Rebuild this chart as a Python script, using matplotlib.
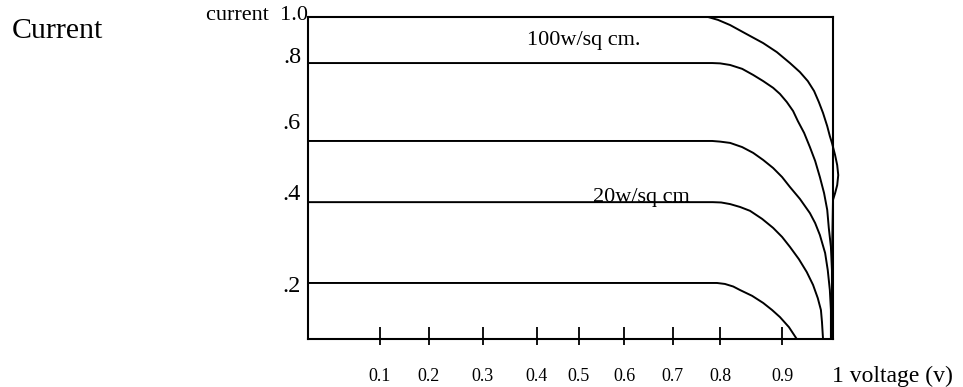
import matplotlib
matplotlib.use("Agg")
import matplotlib.pyplot as plt
import matplotlib.transforms as mtransforms

plt.rcParams['font.family'] = ['Liberation Serif', 'DejaVu Serif']

# ---- data (normalised axis units) ----
xtick_pos = [0.137, 0.230, 0.333, 0.436, 0.516, 0.602, 0.695, 0.785, 0.903]
xtick_labels = ['0.1', '0.2', '0.3', '0.4', '0.5', '0.6', '0.7', '0.8', '0.9']

levels = [0.174, 0.425, 0.615, 0.857, 1.0]
level_labels = ['.2', '.4', '.6', '.8', 'current  1.0']

c1_x = [0.0, 0.762, 0.781, 0.804, 0.832, 0.867, 0.893, 0.918, 0.937, 0.952, 0.964, 0.973,
        0.981, 0.989, 0.994, 0.998, 1.004, 1.008, 1.010, 1.008, 1.004, 1.000, 0.998, 0.998]
c1_y = [1.0, 1.0, 0.991, 0.975, 0.950, 0.919, 0.891, 0.857, 0.829, 0.801, 0.770, 0.736,
        0.702, 0.661, 0.630, 0.609, 0.571, 0.540, 0.509, 0.478, 0.453, 0.432, 0.245, 0.0]

c2_x = [0.0, 0.770, 0.785, 0.804, 0.827, 0.848, 0.867, 0.886, 0.899, 0.912, 0.924, 0.933,
        0.945, 0.956, 0.966, 0.975, 0.983, 0.989, 0.992, 0.996, 0.998, 0.998, 0.998]
c2_y = [0.857, 0.857, 0.856, 0.851, 0.839, 0.820, 0.801, 0.780, 0.761, 0.736, 0.708, 0.677,
        0.640, 0.596, 0.553, 0.503, 0.453, 0.401, 0.345, 0.286, 0.214, 0.121, 0.0]

c3_x = [0.0, 0.770, 0.785, 0.804, 0.827, 0.848, 0.867, 0.886, 0.903, 0.918, 0.937,
        0.956, 0.966, 0.975, 0.985, 0.990, 0.994, 0.996, 0.996]
c3_y = [0.615, 0.615, 0.613, 0.609, 0.596, 0.578, 0.556, 0.531, 0.503, 0.472, 0.435,
        0.391, 0.360, 0.323, 0.267, 0.214, 0.152, 0.090, 0.0]

c4_x = [0.0, 0.771, 0.787, 0.804, 0.823, 0.842, 0.865, 0.886, 0.903, 0.918, 0.935,
        0.950, 0.962, 0.971, 0.977, 0.979, 0.981]
c4_y = [0.425, 0.425, 0.424, 0.419, 0.410, 0.398, 0.373, 0.345, 0.317, 0.286, 0.248,
        0.208, 0.168, 0.127, 0.090, 0.053, 0.0]

c5_x = [0.0, 0.779, 0.794, 0.810, 0.823, 0.846, 0.867, 0.884, 0.899, 0.916, 0.931]
c5_y = [0.174, 0.174, 0.171, 0.163, 0.152, 0.134, 0.112, 0.090, 0.068, 0.037, 0.0]

curves = [(c1_x, c1_y), (c2_x, c2_y), (c3_x, c3_y), (c4_x, c4_y), (c5_x, c5_y)]

# ---- figure ----
W, H = 963, 387
fig = plt.figure(figsize=(W / 100, H / 100), dpi=100)
ax = fig.add_axes([308 / W, (H - 339) / H, (833 - 308) / W, (339 - 17) / H])
ax.set_xlim(0, 1)
ax.set_ylim(0, 1)

for xs, ys in curves:
    ax.plot(xs, ys, color='black', lw=1.4, clip_on=False,
            solid_capstyle='butt', solid_joinstyle='round')

for s in ax.spines.values():
    s.set_linewidth(1.5)
    s.set_color('black')

ax.xaxis.remove_overlapping_locs = False
ax.set_xticks(xtick_pos)
ax.set_xticklabels(xtick_labels, fontsize=13)
ax.set_xticks(xtick_pos, minor=True)
ax.tick_params(axis='x', which='major', direction='in', length=9, width=1.3, pad=21)
ax.tick_params(axis='x', which='minor', direction='out', length=4, width=1.3)
ax.set_yticks([])

# y level labels
offsets = [-9, 2, 12, 0, -3]
trans = mtransforms.blended_transform_factory(ax.transAxes, ax.transData)
for lev, lab, off in zip(levels, level_labels, offsets):
    fs = 16 if lab.startswith('current') else 17.5
    dx = 0 if lab.startswith('current') else -7
    ax.annotate(lab, xy=(0, lev), xycoords=trans, xytext=(dx, off),
                textcoords='offset pixels', ha='right', va='baseline', fontsize=fs)

ax.text(0.417, 0.913, '100w/sq cm.', fontsize=16, ha='left', va='baseline')
ax.text(0.543, 0.425, '20w/sq cm', fontsize=16, ha='left', va='baseline')
ax.text(0.998, -0.134, '1 voltage (v)', fontsize=17, ha='left', va='baseline', clip_on=False)

fig.text(12 / W, 1 - 38 / H, 'Current', fontsize=21.5, ha='left', va='baseline')

fig.savefig('out.png', dpi=100)
